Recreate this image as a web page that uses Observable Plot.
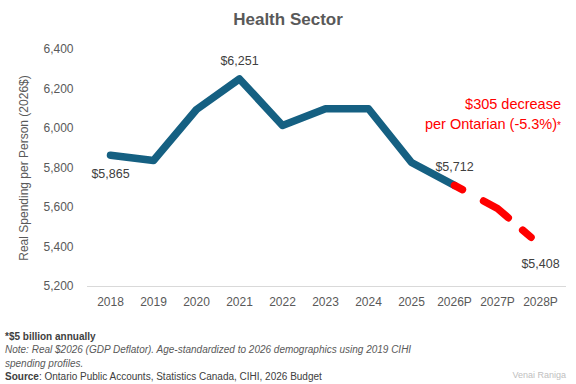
<!DOCTYPE html>
<html>
<head>
<meta charset="utf-8">
<script src="https://cdn.jsdelivr.net/npm/d3@7"></script>
<script src="https://cdn.jsdelivr.net/npm/@observablehq/plot@0.6"></script>
<style>
  html, body { margin: 0; padding: 0; background: #fff; }
  body { width: 576px; height: 384px; position: relative; overflow: hidden; font-family: "Liberation Sans", Arial, sans-serif; }
  #title { height: 36px; box-sizing: border-box; padding-top: 10px; line-height: 20px; text-align: center; font-weight: bold; font-size: 17px; color: #595959; }
  #chart svg { display: block; }
  #annot { position: absolute; right: 15px; top: 94px; text-align: right; color: #ff0000; font-size: 14.5px; line-height: 20px; }
  #annot .ast { font-size: 10px; }
  #footer { padding-left: 5px; margin-top: 12px; font-size: 10px; line-height: 13.4px; color: #404040; }
  #footer .note { font-style: italic; color: #595959; }
  #credit { position: absolute; right: 10px; top: 370px; font-size: 9px; color: #c0c0c0; }
</style>
</head>
<body>
<div id="title">Health Sector</div>
<div id="chart"></div>
<div id="annot">$305 decrease<br>per Ontarian (-5.3%)<span class="ast">*</span></div>
<div id="footer">
  <div><b>*$5 billion annually</b></div>
  <div class="note">Note: Real $2026 (GDP Deflator). Age-standardized to 2026 demographics using 2019 CIHI<br>spending profiles.</div>
  <div><b>Source</b>: Ontario Public Accounts, Statistics Canada, CIHI, 2026 Budget</div>
</div>
<div id="credit">Venai Raniga</div>
<script>
const years = ["2018", "2019", "2020", "2021", "2022", "2023", "2024", "2025", "2026P", "2027P", "2028P"];
const actualYears = ["2018", "2019", "2020", "2021", "2022", "2023", "2024", "2025", "2026P"];
const actualValues = [5865, 5838, 6096, 6251, 6015, 6100, 6100, 5828, 5712];
const projYears = ["2026P", "2027P", "2028P"];
const projValues = [5712, 5595, 5408];
const yTicks = [5200, 5400, 5600, 5800, 6000, 6200, 6400];
const labelsAbove = ["2021", "2026P"];
const labelsBelow = ["2018", "2028P"];

const comma = d3.format(",");
const actual = actualYears.map((y, i) => ({year: y, value: actualValues[i]}));
const proj = projYears.map((y, i) => ({year: y, value: projValues[i]}));
const all = new Map([...actual, ...proj].map(d => [d.year, d.value]));
const above = labelsAbove.map(y => ({year: y, value: all.get(y)}));
const below = labelsBelow.map(y => ({year: y, value: all.get(y)}));
const fmt = d => "$" + comma(d.value);

const plot = Plot.plot({
  width: 576,
  height: 282,
  marginTop: 13,
  marginBottom: 32,
  marginLeft: 87,
  marginRight: 14,
  style: {fontFamily: "'Liberation Sans', Arial, sans-serif", fontSize: "12px", color: "#595959", background: "#fff"},
  x: {type: "point", domain: years, padding: 0.5, label: null},
  y: {domain: [5200, 6400], ticks: yTicks, tickFormat: comma, label: "Real Spending per Person (2026$)"},
  marks: [
    Plot.ruleY([5200], {stroke: "#d9d9d9", strokeWidth: 1, insetRight: -4}),
    Plot.axisX({tickSize: 0, tickPadding: 11, label: null}),
    Plot.axisY({ticks: yTicks, tickFormat: comma, tickSize: 0, tickPadding: 14, label: "Real Spending per Person (2026$)", labelAnchor: "center", labelOffset: 68, labelArrow: "none"}),
    Plot.line(actual, {x: "year", y: "value", stroke: "#156082", strokeWidth: 7.5, strokeLinecap: "round", strokeLinejoin: "round"}),
    Plot.line(proj, {x: "year", y: "value", stroke: "#ff0000", strokeWidth: 7.5, strokeLinecap: "round", strokeLinejoin: "round", strokeDasharray: "9,24,30,19,11,100"}),
    Plot.text(above, {x: "year", y: "value", text: fmt, dy: -18, fill: "#404040", fontSize: 12.5}),
    Plot.text(below, {x: "year", y: "value", text: fmt, dy: 19, fill: "#404040", fontSize: 12.5})
  ]
});
document.getElementById("chart").appendChild(plot);
</script>
</body>
</html>
